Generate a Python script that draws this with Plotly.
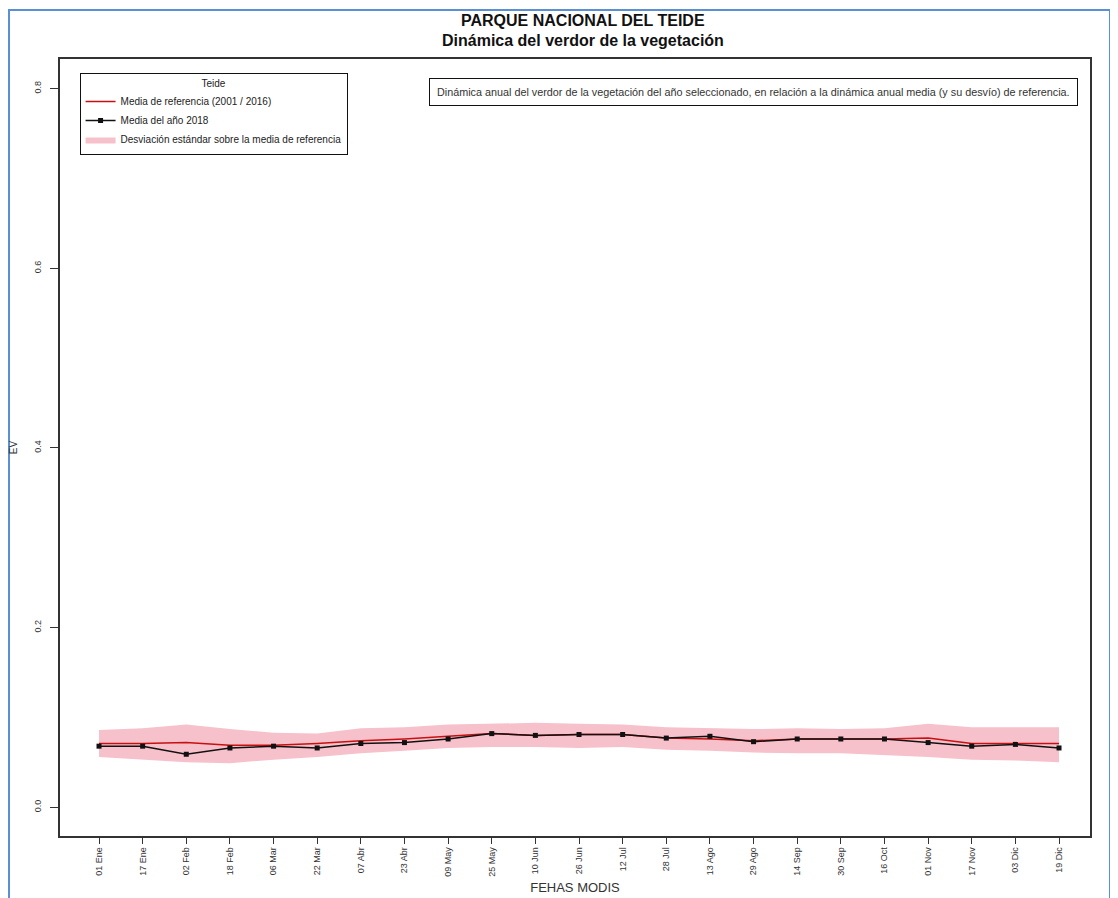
import plotly.graph_objects as go

fechas = ["01 Ene", "17 Ene", "02 Feb", "18 Feb", "06 Mar", "22 Mar", "07 Abr", "23 Abr",
          "09 May", "25 May", "10 Jun", "26 Jun", "12 Jul", "28 Jul", "13 Ago", "29 Ago",
          "14 Sep", "30 Sep", "16 Oct", "01 Nov", "17 Nov", "03 Dic", "19 Dic"]

media_ref = [0.071, 0.071, 0.072, 0.069, 0.069, 0.071, 0.074, 0.076, 0.079, 0.082, 0.080, 0.081,
             0.081, 0.077, 0.076, 0.074, 0.076, 0.076, 0.076, 0.077, 0.071, 0.071, 0.071]

media_2018 = [0.068, 0.068, 0.059, 0.066, 0.068, 0.066, 0.071, 0.072, 0.076, 0.082, 0.080, 0.081,
              0.081, 0.077, 0.079, 0.073, 0.076, 0.076, 0.076, 0.072, 0.068, 0.070, 0.066]

banda_sup = [0.086, 0.088, 0.092, 0.087, 0.083, 0.082, 0.088, 0.089, 0.092, 0.093, 0.094, 0.093,
             0.092, 0.089, 0.088, 0.087, 0.088, 0.087, 0.088, 0.093, 0.089, 0.089, 0.089]

banda_inf = [0.056, 0.053, 0.050, 0.049, 0.053, 0.056, 0.060, 0.063, 0.066, 0.067, 0.067, 0.066,
             0.067, 0.064, 0.063, 0.061, 0.060, 0.060, 0.058, 0.056, 0.053, 0.052, 0.050]

x = list(range(len(fechas)))

fig = go.Figure()

fig.add_trace(go.Scatter(
    x=x, y=banda_inf, mode="lines", line=dict(width=0, color="rgba(0,0,0,0)"),
    showlegend=False, hoverinfo="skip"))
fig.add_trace(go.Scatter(
    x=x, y=banda_sup, mode="lines", line=dict(width=0, color="rgba(0,0,0,0)"),
    fill="tonexty", fillcolor="#f7c1cb", legendrank=3,
    name="Desviación estándar sobre la media de referencia"))
fig.add_trace(go.Scatter(
    x=x, y=media_ref, mode="lines", line=dict(color="#c81010", width=1.5),
    legendrank=1, name="Media de referencia (2001 / 2016)"))
fig.add_trace(go.Scatter(
    x=x, y=media_2018, mode="lines+markers", line=dict(color="#111111", width=1.5),
    marker=dict(symbol="square", size=5, color="#111111"),
    legendrank=2, name="Media del año 2018"))

fig.update_layout(
    width=1110, height=890,
    margin=dict(l=52, r=28, t=51, b=62, autoexpand=False),
    paper_bgcolor="white", plot_bgcolor="white",
    font=dict(family="Liberation Sans, Arial, sans-serif", color="#222"),
    legend=dict(
        title=dict(text="Teide", side="top center", font=dict(size=10)),
        x=0.019, y=0.982, xanchor="left", yanchor="top",
        bordercolor="#111", borderwidth=1, bgcolor="white",
        font=dict(size=10), tracegroupgap=0, itemwidth=30, traceorder="normal"),
    xaxis=dict(
        tickmode="array", tickvals=x, ticktext=fechas, tickangle=-90,
        tickfont=dict(size=9, color="#333"), automargin=False,
        range=[-0.894, 22.71], showgrid=False, zeroline=False,
        ticks="outside", ticklen=6, tickcolor="#333",
        showline=True, linecolor="#333", linewidth=1.5, mirror=True,
        title=dict(text="FEHAS MODIS", font=dict(size=13, color="#333"), standoff=7)),
    yaxis=dict(
        tickmode="array", tickvals=[0.0, 0.2, 0.4, 0.6, 0.8],
        ticktext=["0.0", "0.2", "0.4", "0.6", "0.8"], tickangle=-90,
        tickfont=dict(size=9, color="#333"), ticklabelstandoff=6, automargin=False,
        range=[-0.032, 0.833], showgrid=False, zeroline=False,
        ticks="outside", ticklen=8, tickcolor="#333",
        showline=True, linecolor="#333", linewidth=1.5, mirror=True,
        title=dict(text="EV", font=dict(size=10, color="#333"), standoff=14)),
)

# title (two bold lines)
fig.add_annotation(xref="paper", yref="paper", x=0.508, y=1.049, xanchor="center", yanchor="middle",
                   text="<b>PARQUE NACIONAL DEL TEIDE</b>", showarrow=False,
                   font=dict(size=16, color="#111"))
fig.add_annotation(xref="paper", yref="paper", x=0.508, y=1.0235, xanchor="center", yanchor="middle",
                   text="<b>Dinámica del verdor de la vegetación</b>", showarrow=False,
                   font=dict(size=16, color="#111"))

fig.add_annotation(
    xref="paper", yref="paper", x=0.988, y=0.958, xanchor="right", yanchor="middle",
    text="Dinámica anual del verdor de la vegetación del año seleccionado, en relación a la dinámica anual media (y su desvío) de referencia.",
    showarrow=False, font=dict(size=10.8, color="#333"),
    bordercolor="#111", borderwidth=1, borderpad=7, bgcolor="white")

# blue frame around the image
fig.add_shape(type="rect", xref="paper", yref="paper",
              x0=-0.0495, x1=1.0194, y0=-0.2, y1=1.063,
              line=dict(color="#5b8fd4", width=2), layer="above")

fig.write_html("out.html")
